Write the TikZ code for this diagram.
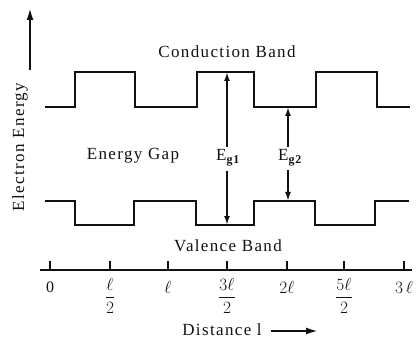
\documentclass[tikz,border=0pt]{standalone}
\usepackage{amsmath}
\usepackage{fontspec}
\setmainfont{Liberation Serif}[LetterSpace=8]
\usepackage{tikz}
\usetikzlibrary{arrows.meta,calc,positioning}
\definecolor{InkDark}{HTML}{111111}

\begin{document}
\begin{tikzpicture}[
    x=1pt, y=-1pt,
    band/.style={draw=InkDark, line width=2.2pt},
    gaparrow/.style={draw=InkDark, line width=1.8pt, -{Latex[length=9pt,width=6pt]}},
    axisarrow/.style={draw=InkDark, line width=2pt, -{Latex[length=12pt,width=7pt]}},
    tag/.style={text=InkDark, inner sep=1pt, font=\fontsize{17}{20}\selectfont},
    ticklbl/.style={text=InkDark, inner sep=1pt, font=\fontsize{16}{18}\selectfont}
]
    \useasboundingbox (0,0) rectangle (419,344);

    \draw[band] (45,107) -- (75,107) -- (75,72) -- (135,72) -- (135,107) -- (197,107)
        -- (197,72) -- (254,72) -- (254,107) -- (316,107) -- (316,72) -- (377,72)
        -- (377,107) -- (410,107);
    \draw[band] (45,201) -- (75,201) -- (75,225) -- (134,225) -- (134,201) -- (196,201)
        -- (196,225) -- (254,225) -- (254,201) -- (315,201) -- (315,225) -- (375,225)
        -- (375,201) -- (409,201);

    \node[tag] (cband) at (227,52) {Conduction Band};
    \node[tag] (gap) at (133,156) {Energy Gap};
    \node[tag] (vband) at (228,246) {Valence Band};

    \node[tag] (eg1) at (228,158) {E\textsubscript{\bfseries g1}};
    \node[tag] (eg2) at (290,158) {E\textsubscript{\bfseries g2}};
    \coordinate (cbhigh) at (227,72);
    \coordinate (vblow) at (227,225);
    \coordinate (cblow) at (288,107);
    \coordinate (vbhigh) at (288,201);
    \draw[gaparrow] (eg1.north -| cbhigh) ++(0,-2) -- (cbhigh);
    \draw[gaparrow] (eg1.south -| vblow) ++(0,4) -- (vblow);
    \draw[gaparrow] (eg2.north -| cblow) ++(0,-2) -- (cblow);
    \draw[gaparrow] (eg2.south -| vbhigh) ++(0,3) -- (vbhigh);

    \draw[band] (40,270) -- (412,270);
    \foreach \tx in {50,110,168,227,287,344,404}
        \draw[band] (\tx,261) -- (\tx,270);
    \node[ticklbl] (t0) at (50,287) {0};
    \node[ticklbl] (t1) at (110,296) {$\dfrac{\ell}{2}$};
    \node[ticklbl] (t2) at (168,287) {$\ell$};
    \node[ticklbl] (t3) at (227,296) {$\dfrac{3\ell}{2}$};
    \node[ticklbl] (t4) at (287,287) {$2\ell$};
    \node[ticklbl] (t5) at (344,296) {$\dfrac{5\ell}{2}$};
    \node[ticklbl] (t6) at (404,287) {$3\,\ell$};

    \node[tag, rotate=90] (ylbl) at (20,147) {Electron Energy};
    \coordinate (ytop) at (30,8);
    \draw[axisarrow] (30,70) -- (ytop);

    \node[tag] (xlbl) at (222,330) {Distance l};
    \coordinate (xend) at (318,331);
    \draw[axisarrow] (xlbl.east) ++(8,1) -- (xend);
\end{tikzpicture}
\end{document}
